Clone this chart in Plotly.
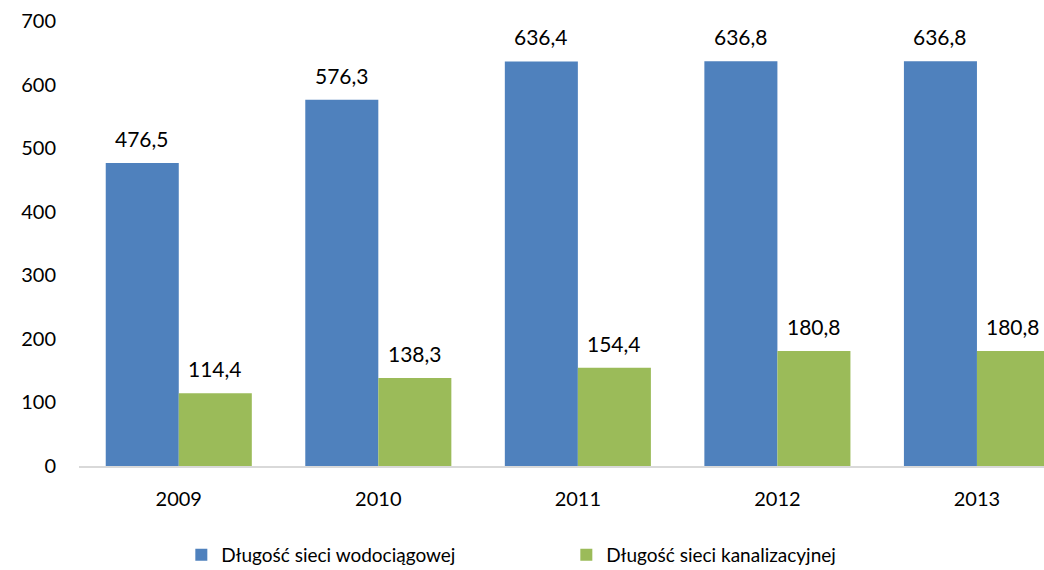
import plotly.graph_objects as go

years = ["2009", "2010", "2011", "2012", "2013"]
wodociagowa = [476.5, 576.3, 636.4, 636.8, 636.8]
kanalizacyjna = [114.4, 138.3, 154.4, 180.8, 180.8]
series_names = ["Długość sieci wodociągowej", "Długość sieci kanalizacyjnej"]
y_ticks = [0, 100, 200, 300, 400, 500, 600, 700]

def fmt(v):
    return f"{v:.1f}".replace(".", ",")

fig = go.Figure()
fig.add_trace(go.Bar(
    x=years, y=wodociagowa, name=series_names[0],
    marker=dict(color="#4f81bd", line=dict(width=0)),
))
fig.add_trace(go.Bar(
    x=years, y=kanalizacyjna, name=series_names[1],
    marker=dict(color="#9bbb59", line=dict(width=0)),
))

# value labels above the bars (x given as category index)
for vals, shift in ((wodociagowa, -36.5), (kanalizacyjna, 36.5)):
    for i, v in enumerate(vals):
        fig.add_annotation(x=i, y=v, xref="x", yref="y", text=fmt(v), showarrow=False,
                           xshift=shift, yshift=10, yanchor="bottom",
                           font=dict(size=21, color="#000000", family="Lato"))

fig.update_layout(
    width=1044, height=570,
    margin=dict(l=79, r=0, t=21, b=104, autoexpand=False),
    paper_bgcolor="white", plot_bgcolor="white",
    barmode="group", bargap=0.268, bargroupgap=0,
    font=dict(family="Lato", size=19, color="#000000"),
    showlegend=True,
    legend=dict(orientation="h", x=0.505, xanchor="center", y=-0.2, yanchor="middle",
                font=dict(size=19, family="Lato", color="#000000"),
                itemsizing="constant", entrywidth=340, traceorder="normal"),
    separators=", ",
)
fig.update_xaxes(
    type="category", range=[-0.5, 4.336], automargin=False,
    showline=True, linecolor="#d9d9d9", linewidth=1.5,
    showgrid=False, ticks="", tickfont=dict(size=20),
    ticklabelstandoff=14,
)
fig.update_yaxes(
    range=[0, 700], tickvals=y_ticks, showgrid=False, zeroline=False, automargin=False,
    showline=False, ticks="", tickfont=dict(size=20), ticklabelstandoff=22,
)

fig.write_html("out.html", config={"displayModeBar": False},
               post_script="document.body.style.margin='0';")
